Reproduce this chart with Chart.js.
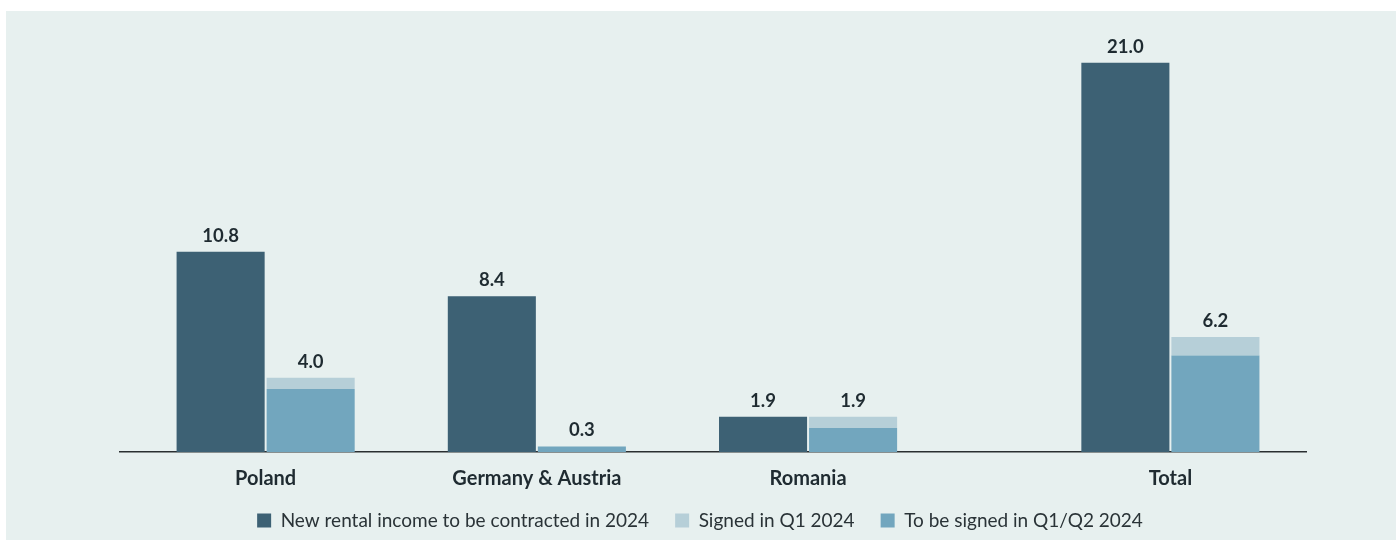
<!DOCTYPE html>
<html>
<head>
<meta charset="utf-8">
<script src="https://cdn.jsdelivr.net/npm/chart.js@4.4.1/dist/chart.umd.min.js"></script>
<style>
  html, body { margin: 0; padding: 0; background: #ffffff; }
  #wrap { width: 1400px; height: 540px; position: relative; }
</style>
</head>
<body>
<div id="wrap"><canvas id="rentChart"></canvas></div>
<script>
// Regions and where each group sits on the x axis (Total is set a bit apart)
var regions = ['Poland', 'Germany & Austria', 'Romania', 'Total'];
var regionPos = [0, 1, 2, 3.336];

// EUR m
var newRental = [10.8, 8.4, 1.9, 21.0];
var signedQ1 = [0.6, 0.0, 0.6, 1.0];
var toBeSigned = [3.4, 0.3, 1.3, 5.2];
var pipelineTotal = [4.0, 0.3, 1.9, 6.2];

var legendOrder = ['New rental income to be contracted in 2024', 'Signed in Q1 2024', 'To be signed in Q1/Q2 2024'];

var FONT = 'Lato, "Open Sans", sans-serif';
var LEGEND_LIFT = 13;

function points(values) {
    return values.map(function (v, i) { return { x: regionPos[i], y: v }; });
}

// light panel behind the whole chart
var panelBg = {
    id: 'panelBg',
    beforeDraw: function (chart) {
        var c = chart.ctx;
        c.save();
        c.fillStyle = '#e7f0ef';
        c.fillRect(6, 11, 1390, 529);
        c.restore();
    }
};

// the x axis needs a taller box so labels aren't clipped; pull the legend back up afterwards
var legendLift = {
    id: 'legendLift',
    afterLayout: function (chart) {
        var lg = chart.legend;
        if (!lg) return;
        lg.top -= LEGEND_LIFT;
        lg.bottom -= LEGEND_LIFT;
    }
};

// value labels above the dark bars and above each stacked pair
var barValues = {
    id: 'barValues',
    afterDatasetsDraw: function (chart) {
        var c = chart.ctx;
        c.save();
        c.font = 'bold 18.5px ' + FONT;
        c.fillStyle = '#1f2b31';
        c.textAlign = 'center';
        c.textBaseline = 'alphabetic';
        var dark = chart.getDatasetMeta(0).data;
        var top = chart.getDatasetMeta(2).data;
        var bottom = chart.getDatasetMeta(1).data;
        for (var i = 0; i < regions.length; i++) {
            c.fillText(newRental[i].toFixed(1), dark[i].x, dark[i].y - 10);
            var y = Math.min(top[i].y, bottom[i].y);
            c.fillText(pipelineTotal[i].toFixed(1), bottom[i].x, y - 10);
        }
        c.restore();
    }
};

var barOpts = { categoryPercentage: 0.664, barPercentage: 0.978, borderWidth: 0 };

new Chart(document.getElementById('rentChart'), {
    type: 'bar',
    data: {
        datasets: [
            Object.assign({ label: legendOrder[0], data: points(newRental), backgroundColor: '#3d6174', stack: 'a' }, barOpts),
            Object.assign({ label: legendOrder[2], data: points(toBeSigned), backgroundColor: '#72a6be', stack: 'b' }, barOpts),
            Object.assign({ label: legendOrder[1], data: points(signedQ1), backgroundColor: '#b6cfd8', stack: 'b' }, barOpts)
        ]
    },
    options: {
        responsive: true,
        maintainAspectRatio: false,
        animation: false,
        layout: { padding: { left: 0, right: 0, top: 20, bottom: -LEGEND_LIFT } },
        scales: {
            x: {
                type: 'linear',
                offset: false,
                min: -0.537,
                max: 3.836,
                stacked: true,
                afterBuildTicks: function (scale) {
                    scale.ticks = regionPos.map(function (v) { return { value: v }; });
                },
                afterFit: function (scale) { scale.height = 46; },
                grid: { display: false, drawTicks: false },
                border: { display: true, color: '#2a2f31', width: 1.6 },
                ticks: {
                    autoSkip: false,
                    maxRotation: 0,
                    padding: 15,
                    color: '#1f2b31',
                    font: { family: FONT, size: 20, weight: 'bold' },
                    callback: function (value, index) { return regions[index]; }
                }
            },
            y: {
                stacked: true,
                min: 0,
                max: 23.3,
                position: 'left',
                afterFit: function (scale) { scale.width = 120; },
                grid: { display: false },
                border: { display: false },
                ticks: { display: false }
            },
            yRight: {
                position: 'right',
                afterFit: function (scale) { scale.width = 94; },
                grid: { display: false },
                border: { display: false },
                ticks: { display: false }
            }
        },
        plugins: {
            tooltip: { enabled: false },
            legend: {
                position: 'bottom',
                labels: {
                    boxWidth: 14,
                    boxHeight: 14,
                    padding: 26,
                    color: '#2a3337',
                    font: { family: FONT, size: 19 },
                    sort: function (a, b) {
                        return legendOrder.indexOf(a.text) - legendOrder.indexOf(b.text);
                    }
                }
            }
        }
    },
    plugins: [panelBg, legendLift, barValues]
});
</script>
</body>
</html>
